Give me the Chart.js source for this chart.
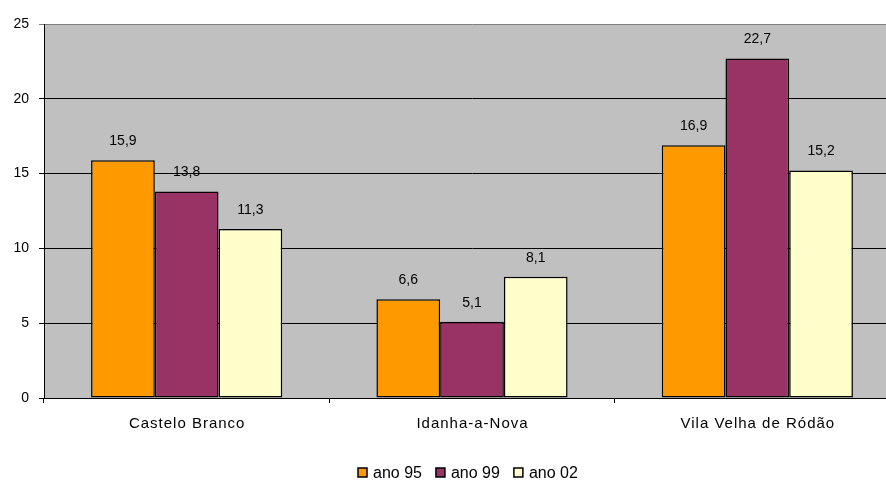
<!DOCTYPE html>
<html>
<head>
<meta charset="utf-8">
<script src="https://cdn.jsdelivr.net/npm/chart.js@4/dist/chart.umd.min.js"></script>
<style>
  html, body { margin: 0; padding: 0; background: #fff; overflow: hidden; }
  canvas { display: block; }
</style>
</head>
<body>
<canvas id="chart" width="900" height="483"></canvas>
<script>
// ── Dados ────────────────────────────────────────────────
const concelhos = ["Castelo Branco", "Idanha-a-Nova", "Vila Velha de Ródão"]
const ano95 = [15.9, 6.6, 16.9]
const ano99 = [13.8, 5.1, 22.7]
const ano02 = [11.3, 8.1, 15.2]
const yTicks = [0, 5, 10, 15, 20, 25]

const FONT = "'Liberation Sans', Arial, sans-serif"

// rótulos de valor, nomes dos concelhos e legenda
const labelsPlugin = {
  id: "valueLabels",
  afterDatasetsDraw(chart) {
    const ctx = chart.ctx
    ctx.save()
    ctx.font = "14px " + FONT
    ctx.fillStyle = "#000"
    ctx.textAlign = "center"
    ctx.textBaseline = "middle"
    chart.data.datasets.forEach((ds, i) => {
      chart.getDatasetMeta(i).data.forEach((bar, j) => {
        ctx.fillText(String(ds.data[j]).replace(".", ","), bar.x, bar.y - 19)
      })
    })
    ctx.restore()
  },
  afterDraw(chart) {
    const ctx = chart.ctx
    const xs = chart.scales.x
    ctx.save()
    // nomes das categorias (com espaçamento entre letras)
    ctx.font = "15px " + FONT
    ctx.letterSpacing = "1px"
    ctx.fillStyle = "#000"
    ctx.textAlign = "center"
    ctx.textBaseline = "middle"
    chart.data.labels.forEach((lab, i) => {
      ctx.fillText(lab, xs.getPixelForValue(i) + 0.5, 424)
    })

    // legenda
    ctx.letterSpacing = "0px"
    ctx.font = "16px " + FONT
    ctx.textAlign = "left"
    let x = 358
    const y = 473
    chart.data.datasets.forEach(ds => {
      ctx.fillStyle = ds.backgroundColor
      ctx.fillRect(x, y - 5, 9, 9)
      ctx.strokeStyle = "#000"
      ctx.lineWidth = 1.5
      ctx.strokeRect(x, y - 5, 9, 9)
      ctx.fillStyle = "#000"
      ctx.fillText(ds.label, x + 15, y + 1)
      x += 15 + ctx.measureText(ds.label).width + 14
    })
    ctx.restore()
  }
}

const plotBg = {
  id: "plotBg",
  beforeDraw(chart) {
    const a = chart.chartArea
    chart.ctx.save()
    chart.ctx.fillStyle = "#c0c0c0"
    chart.ctx.fillRect(a.left, a.top, a.right - a.left, a.bottom - a.top)
    chart.ctx.restore()
  }
}

const barStyle = { borderColor: "#000", borderWidth: 1.5, borderSkipped: false }

new Chart(document.getElementById("chart"), {
  type: "bar",
  data: {
    labels: concelhos,
    datasets: [
      { label: "ano 95", data: ano95, backgroundColor: "#ff9900", ...barStyle },
      { label: "ano 99", data: ano99, backgroundColor: "#993366", ...barStyle },
      { label: "ano 02", data: ano02, backgroundColor: "#ffffcc", ...barStyle }
    ]
  },
  plugins: [plotBg, labelsPlugin],
  options: {
    responsive: false,
    animation: false,
    layout: { padding: { top: 24, right: 0, left: 0, bottom: 0 } },
    datasets: { bar: { categoryPercentage: 0.67, barPercentage: 1 } },
    plugins: { legend: { display: false }, tooltip: { enabled: false } },
    scales: {
      x: {
        offset: true,
        afterFit: s => { s.height = 85 },
        grid: {
          offset: true,
          drawOnChartArea: false,
          color: "#000",
          tickLength: 5
        },
        border: { color: "#000", width: 1 },
        ticks: { color: "rgba(0,0,0,0)", font: { family: FONT, size: 13 }, padding: 12, maxRotation: 0 }
      },
      y: {
        min: 0,
        max: 25,
        afterFit: s => { s.width = 44 },
        afterBuildTicks: s => { s.ticks = yTicks.map(v => ({ value: v })) },
        grid: {
          color: c => (c.tick && c.tick.value === 25 ? "#808080" : "#000"),
          lineWidth: 1,
          tickLength: 5
        },
        border: { color: "#000", width: 1 },
        ticks: { color: "#000", font: { family: FONT, size: 14 }, padding: 10 }
      }
    }
  }
})
</script>
</body>
</html>
